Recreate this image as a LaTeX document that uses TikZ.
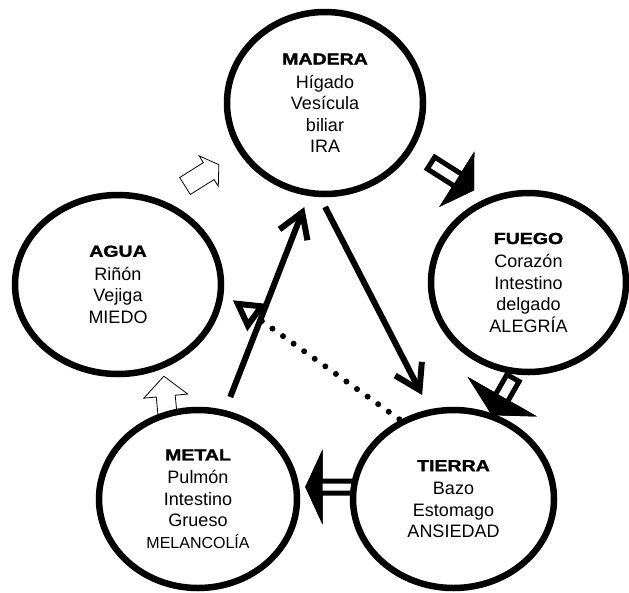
\documentclass[tikz,border=0pt]{standalone}
\usepackage{fontspec}
\setmainfont{Liberation Sans}
\newfontfamily\heavyfont{Liberation Sans Bold}[FakeBold=1.5]
\usepackage{graphicx}
\usetikzlibrary{arrows.meta,shapes.geometric}

\newcommand\elname[1]{\scalebox{1.22}[1]{\fontsize{16}{18}\selectfont\heavyfont #1}}

\begin{document}
\begin{tikzpicture}[x=1pt,y=-1pt,
  element/.style={ellipse, draw, line width=6.5pt, fill=white, align=center,
    inner sep=0pt, font=\fontsize{18}{21.5}\selectfont},
  ctrlarrow/.style={line width=6pt, -{Straight Barb[length=24pt,width=30pt]}},
  ctrldots/.style={line width=6pt, line cap=round, dash pattern=on 0pt off 13pt,
    -{Triangle[open,length=30pt,width=32pt]}},
  boldblock/.style={draw, line width=5pt, miter limit=10, fill=white},
  thinblock/.style={draw, line width=0.8pt, fill=white}]

  \useasboundingbox (0,0) rectangle (629,592);

  % generating cycle: tail x/tail y/angle/shaft/head/half shaft/half head
  \foreach \tx/\ty/\ang/\a/\l/\s/\h in {431/163/-32.4/33/15/7/24,
                                       513/378/-119.7/24/16/7/30,
                                       356/487/180/36/12/6/26}
  {
    \draw[boldblock, shift={(\tx,\ty)}, rotate=\ang]
      (0,\s) -- (\a,\s) -- (\a,\h) -- (\a+\l,0) -- (\a,-\h) -- (\a,-\s) -- (0,-\s) -- cycle;
    \draw[boldblock, fill=black, shift={(\tx,\ty)}, rotate=\ang]
      (\a,\h) -- (\a+\l,0) -- (\a,-\h) -- cycle;
  }
  \foreach \tx/\ty/\ang/\a/\l/\s/\h in {168/420/95.4/24/20/9.5/22,
                                       185/186/32.2/28/12/10/18}
    \draw[thinblock, shift={(\tx,\ty)}, rotate=\ang]
      (0,\s) -- (\a,\s) -- (\a,\h) -- (\a+\l,0) -- (\a,-\h) -- (\a,-\s) -- (0,-\s) -- cycle;

  % the five elements
  \node[element, minimum width=196pt, minimum height=182pt] (madera) at (325,103)
    {\elname{MADERA}\\[2pt] Hígado\\ Vesícula\\ biliar\\ IRA};
  \node[element, minimum width=195pt, minimum height=179pt] (fuego) at (528.5,282.5)
    {\elname{FUEGO}\\[2pt] Corazón\\ Intestino\\ delgado\\ ALEGRÍA};
  \node[element, minimum width=201pt, minimum height=178pt] (tierra) at (453.5,499)
    {\elname{TIERRA}\\[2pt] Bazo\\ Estomago\\ ANSIEDAD};
  \node[element, minimum width=198pt, minimum height=178pt] (metal) at (198,499)
    {\elname{METAL}\\[2pt] Pulmón\\ Intestino\\ Grueso\\ {\fontsize{16}{21.5}\selectfont MELANCOLÍA}};
  \node[element, minimum width=206pt, minimum height=179pt] (agua) at (118,284.5)
    {\elname{AGUA}\\[2pt] Riñón\\ Vejiga\\ MIEDO};

  % control cycle
  \draw[ctrldots, shorten <=1pt, shorten >=11pt] (tierra.124) -- (agua.-5);
  \draw[ctrlarrow, shorten <=14pt, shorten >=12pt] (metal.73) -- (madera.-100);
  \draw[ctrlarrow, shorten <=11pt, shorten >=16pt] (madera.-93) -- (tierra.105);

\end{tikzpicture}
\end{document}
